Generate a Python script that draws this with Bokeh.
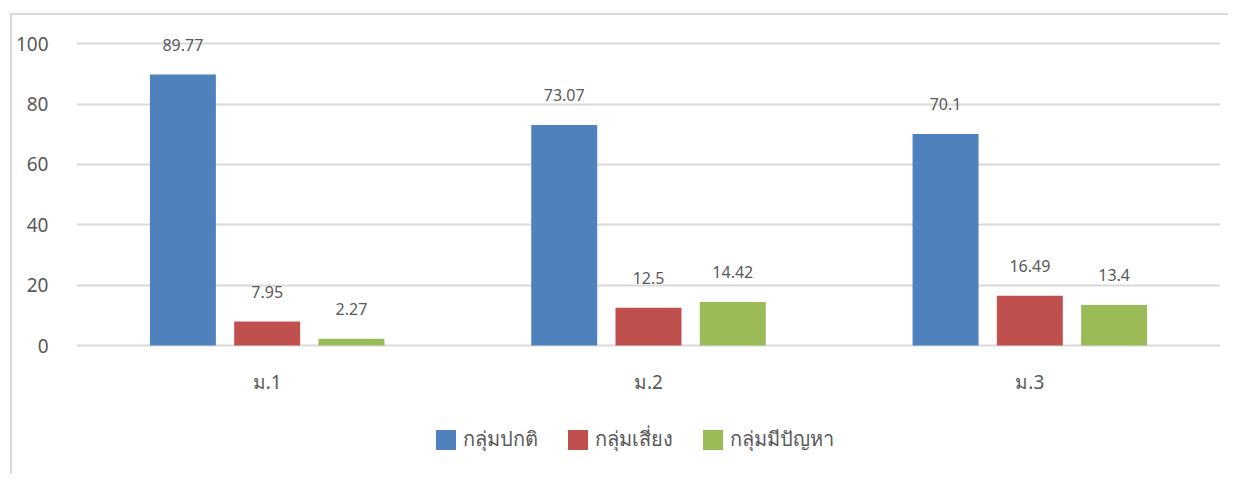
from bokeh.plotting import figure
from bokeh.models import ColumnDataSource, FactorRange, Range1d, FixedTicker, Legend, LegendItem
from bokeh.transform import dodge
from bokeh.core.properties import value
from bokeh.embed import file_html
from bokeh.resources import INLINE

categories = ["ม.1", "ม.2", "ม.3"]
series_names = ["กลุ่มปกติ", "กลุ่มเสี่ยง", "กลุ่มมีปัญหา"]
normal = [89.77, 73.07, 70.1]
risk = [7.95, 12.5, 16.49]
problem = [2.27, 14.42, 13.4]
labels_normal = ["89.77", "73.07", "70.1"]
labels_risk = ["7.95", "12.5", "16.49"]
labels_problem = ["2.27", "14.42", "13.4"]
y_ticks = [0, 20, 40, 60, 80, 100]

colors = ["#4F81BD", "#C0504D", "#9BBB59"]
text_color = "#595959"
grid_color = "#D9D9D9"
FONT = "Noto Sans"

src = ColumnDataSource(dict(cat=categories, normal=normal, risk=risk, problem=problem,
                            ln=labels_normal, lr=labels_risk, lp=labels_problem,
                            zero=[0, 0, 0]))

p = figure(width=1218, height=461, x_range=FactorRange(*categories),
           y_range=Range1d(-43.38, 108), output_backend="svg", toolbar_location=None,
           min_border_left=64, min_border_right=10, min_border_top=4, min_border_bottom=0)
p.margin = (13, 0, 0, 10)
p.styles = {"border-left": "2px solid #D9D9D9", "border-top": "2px solid #D9D9D9"}
p.outline_line_color = None
p.xaxis.visible = False
p.xgrid.grid_line_color = None
p.ygrid.grid_line_color = grid_color
p.ygrid.grid_line_width = 2
p.yaxis.ticker = FixedTicker(ticks=y_ticks)
p.yaxis.axis_line_color = None
p.yaxis.major_tick_line_color = None
p.yaxis.minor_tick_line_color = None
p.yaxis.major_label_text_font = FONT
p.yaxis.major_label_text_font_size = "19px"
p.yaxis.major_label_text_color = text_color
p.yaxis.major_label_standoff = 22

# category labels below the zero line
p.text(x="cat", y="zero", text="cat", source=src, text_align="center",
       text_baseline="middle", y_offset=36, text_font=value(FONT),
       text_font_size="19px", text_color=text_color)

w = 0.173
off = 0.221
cols = ["normal", "risk", "problem"]
lcols = ["ln", "lr", "lp"]
renderers = []
for i, (c, lc) in enumerate(zip(cols, lcols)):
    d = (i - 1) * off
    r = p.vbar(x=dodge("cat", d, range=p.x_range), top=c, width=w, source=src,
               fill_color=colors[i], line_color=None)
    renderers.append(r)
    p.text(x=dodge("cat", d, range=p.x_range), y=c, text=lc, source=src,
           text_align="center", text_baseline="middle", y_offset=-30,
           text_font=value(FONT), text_font_size="16px", text_color=text_color)

legend = Legend(items=[LegendItem(label=series_names[i], renderers=[renderers[i]]) for i in range(3)],
                orientation="horizontal", location=(357, 21),
                glyph_width=25, glyph_height=25, label_standoff=5, spacing=27,
                padding=0, margin=0, border_line_color=None, background_fill_alpha=0,
                label_text_font=FONT, label_text_font_size="20px", label_text_color=text_color)
p.add_layout(legend, "center")

open("out.html", "w").write(file_html(p, INLINE))
